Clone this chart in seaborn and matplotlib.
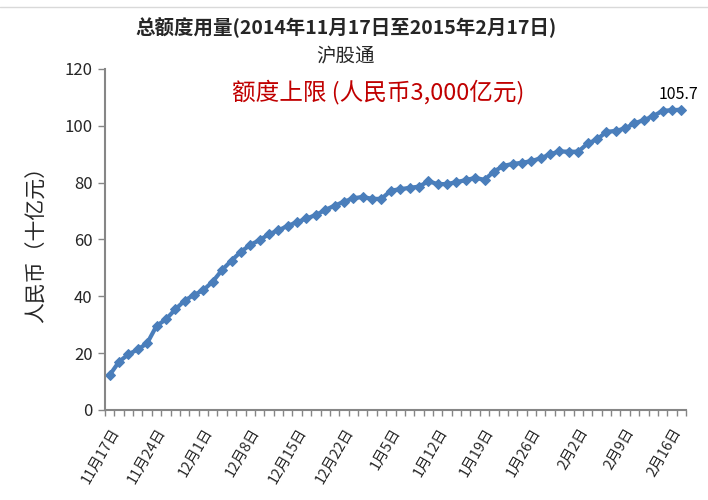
import numpy as np
import pandas as pd
import matplotlib
matplotlib.use("Agg")
import matplotlib.pyplot as plt
import seaborn as sns
from matplotlib.lines import Line2D

# ---- data ----
dates = (
    ["11月17日", "11月18日", "11月19日", "11月20日", "11月21日",
     "11月24日", "11月25日", "11月26日", "11月27日", "11月28日",
     "12月1日", "12月2日", "12月3日", "12月4日", "12月5日",
     "12月8日", "12月9日", "12月10日", "12月11日", "12月12日",
     "12月15日", "12月16日", "12月17日", "12月18日", "12月19日",
     "12月22日", "12月23日", "12月24日", "12月29日", "12月30日",
     "1月5日", "1月6日", "1月7日", "1月8日", "1月9日",
     "1月12日", "1月13日", "1月14日", "1月15日", "1月16日",
     "1月19日", "1月20日", "1月21日", "1月22日", "1月23日",
     "1月26日", "1月27日", "1月28日", "1月29日", "1月30日",
     "2月2日", "2月3日", "2月4日", "2月5日", "2月6日",
     "2月9日", "2月10日", "2月11日", "2月12日", "2月13日",
     "2月16日", "2月17日"]
)
usage = [12.3, 17.0, 19.6, 21.3, 23.5,
         29.6, 31.9, 35.4, 38.5, 40.5,
         42.2, 45.2, 49.3, 52.6, 55.7,
         58.1, 59.8, 61.9, 63.2, 64.8,
         66.1, 67.4, 68.6, 70.4, 71.9,
         73.3, 74.5, 75.0, 74.3, 74.3,
         77.2, 77.7, 78.2, 78.6, 80.5,
         79.5, 79.5, 80.2, 80.9, 81.7,
         81.0, 83.9, 85.9, 86.6, 87.0,
         87.6, 88.6, 90.0, 91.0, 90.9,
         90.9, 93.8, 95.2, 97.9, 98.2,
         99.1, 100.9, 102.0, 103.4, 105.3,
         105.5, 105.7]
label_every = 5
y_ticks = [0, 20, 40, 60, 80, 100, 120]

title_line1 = "总额度用量(2014年11月17日至2015年2月17日)"
title_line2 = "沪股通"
note_text = "额度上限 (人民币3,000亿元)"
y_label = "人民币（十亿元）"
last_label = "105.7"

# ---- plot ----
sns.set_theme(style="white")
plt.rcParams['font.family'] = ['Noto Sans CJK SC', 'DejaVu Sans']

df = pd.DataFrame({"idx": np.arange(len(dates)), "date": dates, "usage": usage})

fig = plt.figure(figsize=(7.08, 5.0), dpi=100)
ax = fig.add_axes([105/708, 90/500, 581/708, 341/500])

blue = "#4a7ebb"
sns.lineplot(data=df, x="idx", y="usage", ax=ax, color=blue, linewidth=3,
             marker="D", markersize=5.5, markeredgecolor=blue, markerfacecolor=blue)

ax.set_xlim(-0.5, len(dates) - 0.5)
ax.set_ylim(0, 120)
ax.set_yticks(y_ticks)
ax.set_yticklabels([str(v) for v in y_ticks], fontsize=12)

major = list(range(0, len(dates), label_every))
ax.set_xticks(major)
ax.set_xticklabels([dates[i] for i in major], rotation=60, ha="right",
                   va="top", rotation_mode="anchor", fontsize=10.5)
ax.set_xticks(np.arange(-0.5, len(dates), 1.0), minor=True)
ax.tick_params(axis="x", which="major", length=0, pad=11)
ax.tick_params(axis="x", which="minor", length=4, width=1, color="#868686", bottom=True)
ax.tick_params(axis="y", which="major", length=5, width=1, color="#868686", left=True, pad=4)

ax.set_xlabel("")
ax.set_ylabel(y_label, fontsize=15, labelpad=12)

for side in ["top", "right"]:
    ax.spines[side].set_visible(False)
for side in ["left", "bottom"]:
    ax.spines[side].set_color("#868686")
    ax.spines[side].set_linewidth(1.5)
ax.grid(False)

ax.annotate(last_label, xy=(df["idx"].iloc[-1], usage[-1]), xytext=(-2, 5),
            textcoords="offset points", ha="center", va="bottom", fontsize=11.5,
            color="black")

fig.text(346/708, 1 - 27/500, title_line1, ha="center", va="center",
         fontsize=14, fontweight="bold")
fig.text(345/708, 1 - 56/500, title_line2, ha="center", va="center",
         fontsize=14, fontweight="medium")
fig.text(378/708, 1 - 92/500, note_text, ha="center", va="center",
         fontsize=17, color="#c00000")

fig.add_artist(Line2D([0, 1], [1 - 7/500, 1 - 7/500], transform=fig.transFigure,
                      color="#d9d9d9", linewidth=1))

fig.savefig("out.png", dpi=100)
